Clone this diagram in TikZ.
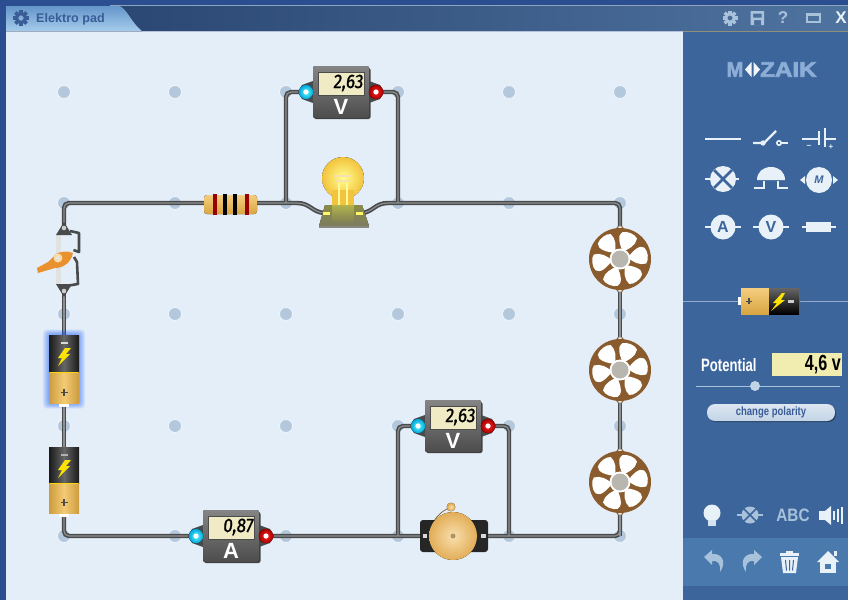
\documentclass[tikz,border=0pt]{standalone}
\usepackage{fontspec}
\usepackage{graphicx}
\setmainfont{Liberation Sans}
\newfontfamily\logofont[FakeBold=3]{Liberation Sans Bold}
\newfontfamily\lcdfont[FakeBold=1.2,FakeSlant=0.12]{Fira Sans}
\definecolor{framec}{HTML}{2A4E8F}
\definecolor{canvasc}{HTML}{E4EEF8}
\definecolor{panelc}{HTML}{3C659B}
\definecolor{bandc}{HTML}{4A79AE}
\definecolor{headtop}{HTML}{2A4672}
\definecolor{headbot}{HTML}{4F739F}
\definecolor{dotc}{HTML}{B4C8DD}
\definecolor{wirec}{HTML}{484A4C}
\definecolor{wirein}{HTML}{8E9091}
\definecolor{lcdc}{HTML}{F0EBC4}
\definecolor{yelc}{HTML}{F0B848}
\definecolor{brownc}{HTML}{8A5B2C}
\definecolor{iconc}{HTML}{E8F1F8}
\definecolor{icondim}{HTML}{A9C2DC}
\definecolor{logoc}{HTML}{8CADD6}
\definecolor{textblue}{HTML}{3A5C97}
\definecolor{tabtop}{HTML}{6496CA}
\definecolor{tabbot}{HTML}{A5CBEB}
\definecolor{orangec}{HTML}{E8912E}
\tikzset{
  griddot/.style={circle,fill=dotc,draw=canvasc!60!white,line width=0.8pt,minimum size=13pt,inner sep=0pt},
  wire/.style={draw=wirec,line width=4.4pt,rounded corners=5pt},
  wirecore/.style={draw=wirein,line width=1.2pt,rounded corners=5pt},
  paneltext/.style={text=white,font=\bfseries,inner sep=0pt},
  iconline/.style={draw=iconc,line width=2.2pt},
  icondisc/.style={circle,fill=iconc,inner sep=0pt,font=\bfseries\fontsize{16}{16}\selectfont,text=panelc}
}
% gear icon
\newcommand{\gearicon}[4]{%
 \begin{scope}[shift={(#1,#2)},scale=#3]
  \foreach \a in {0,45,...,315}{\fill[#4,rotate=\a] (-1.7,-7.5) rectangle (1.7,-4);}
  \fill[#4,even odd rule] (0,0) circle[radius=5.6] (0,0) circle[radius=2.6];
 \end{scope}}
% meter
\newcommand{\metericon}[5]{% name,x,y,value,letter
 \begin{scope}[shift={(#2,#3)}]
  \fill[wirec] (-28,-11) -- (-39,-7) -- (-43,0) -- (-39,7) -- (-28,11) -- cycle;
  \fill[wirec] (28,-11) -- (39,-7) -- (43,0) -- (39,7) -- (28,11) -- cycle;
  \fill[black!72,rounded corners=2pt] (-27,-24) rectangle (29.5,27);
  \fill[top color=black!48,bottom color=black!70,rounded corners=2pt] (-28,-26) rectangle (28,26);
  \fill[lcdc,draw=black!70,line width=.7pt] (-23,-20) rectangle (23,3);
  \node[inner sep=0pt,anchor=east] (#1val) at (22,-9) {\scalebox{1}[1.15]{\lcdfont\fontsize{17}{17}\selectfont #4}};
  \node[inner sep=0pt,text=white] (#1let) at (0,15) {\fontsize{22}{22}\selectfont\bfseries #5};
  \fill[inner color=cyan!60,outer color=blue!25!cyan!85!black] (-35,0) circle[radius=7.2];
  \fill[white] (-35,0) circle[radius=2.6];
  \fill[inner color=red!85,outer color=red!65!black] (35,0) circle[radius=7.2];
  \fill[white] (35,0) circle[radius=2.6];
 \end{scope}}
% fan
\newcommand{\fanicon}[2]{%
 \begin{scope}[shift={(#1,#2)}]
  \fill[brownc] (-6,-28) -- (-2,-33) -- (2,-33) -- (6,-28) -- cycle;
  \fill[brownc] (-6,28) -- (-2,33) -- (2,33) -- (6,28) -- cycle;
  \fill[white!75!black] (0,-31) circle[radius=2.2];
  \fill[white!75!black] (0,31) circle[radius=2.2];
  \fill[white] (0,-31) circle[radius=1.2];
  \fill[white] (0,31) circle[radius=1.2];
  \fill[brownc] (0,0) circle[radius=31];
  \foreach \a in {0,60,...,300}{
   \fill[white,rotate=\a-20] (0,-8) .. controls (-6,-14) and (-11,-22) .. (-7,-26) .. controls (-3,-29) and (6,-28.5) .. (9,-25) .. controls (10,-18) and (5,-12) .. (0,-8) -- cycle;}
  \fill[white] (0,0) circle[radius=10.5];
  \fill[black!32!yellow!10!white!70!black] (0,0) circle[radius=8.5];
 \end{scope}}
% battery
\newcommand{\batteryicon}[5]{% x,y top,y mid,y bottom,minus col
 \fill[white] (#1-5,#4) rectangle (#1+5,#4+4);
 \fill[left color=black!90,right color=black!90,middle color=black!60] (#1-15,#2) rectangle (#1+15,#3);
 \fill[left color=yelc!85!black,right color=yelc!85!black,middle color=yelc!75!white] (#1-15,#3) rectangle (#1+15,#4);
 \fill[yellow!75!orange] (#1-14,#3) rectangle (#1+14,#3+1.2);
 \fill[yellow!85!orange] (#1+1,#2+13) -- (#1-6,#2+23) -- (#1-2,#2+23) -- (#1-6,#2+31) -- (#1+6,#2+19) -- (#1+2,#2+19) -- (#1+7,#2+13) -- cycle;
 \fill[#5] (#1-3.5,#2+6.5) rectangle (#1+3.5,#2+9);
 \fill[black!70] (#1-3.5,#4-11.5) rectangle (#1+3.5,#4-9.8);
 \fill[black!70] (#1-.9,#4-14) rectangle (#1+.9,#4-7.2);
}
\begin{document}
\begin{tikzpicture}[x=1pt,y=-1pt]
\useasboundingbox (0,0) rectangle (848,600);
% frame
\fill[framec] (0,0) rectangle (848,600);
\fill[left color=headtop,right color=headbot] (100,6) rectangle (848,31);
\draw[white!35!headbot,line width=.6pt] (110,5.5) -- (848,5.5);
\fill[panelc] (683,32) rectangle (848,600);
\fill[canvasc] (6,32) rectangle (683,600);
\draw[white!65!framec,line width=.7pt] (6,31.5) -- (683,31.5);
\draw[yelc!40!headbot,line width=.7pt] (683,31.5) -- (848,31.5);
\fill[top color=tabtop,bottom color=tabbot] (6,31) -- (6,6) -- (120,6) .. controls (127,9) and (131,22) .. (142,31) -- cycle;
\gearicon{21}{18}{1.05}{textblue}
\node[inner sep=0pt,anchor=west,text=textblue] (title) at (36,19) {\fontsize{12.6}{12.6}\selectfont\bfseries Elektro pad};
% top icons
\gearicon{730}{18}{1}{icondim}
\fill[icondim,even odd rule] (750.5,11) rectangle (764,25) (753,13.5) rectangle (761.5,17.5) (754,20) rectangle (761,25);
\node[inner sep=0pt,text=icondim] (helpq) at (783,18) {\fontsize{17}{17}\selectfont\bfseries ?};
\draw[draw=icondim,line width=2.2pt] (807,14.5) rectangle (820,22);
\node[inner sep=0pt,text=iconc] (closex) at (841,18) {\fontsize{17}{17}\selectfont\bfseries X};
% grid
\foreach \x/\i in {64/a,175/b,286/c,398/d,509/e,620/f}
 \foreach \y/\j in {92/1,203/2,314/3,426/4,536/5}
  \node[griddot] (g\i\j) at (\x,\y) {};
% terminal coordinates
\coordinate (swT) at (64,228); \coordinate (swB) at (64,292);
\coordinate (batA) at (64,335); \coordinate (batAb) at (64,406);
\coordinate (batB) at (64,447); \coordinate (batBb) at (64,517);
\coordinate (blue1) at (306,92); \coordinate (red1) at (376,92);
\coordinate (blue2) at (417,426); \coordinate (red2) at (488,426);
\coordinate (lampL) at (324,213); \coordinate (lampR) at (362,213);
\coordinate (bendL) at (297,203); \coordinate (bendR) at (388,203);
\coordinate (fanT) at (620,228);
% wires
\foreach \st in {wire,wirecore}{
 \draw[\st] (swT) -- (ga2.center) -- (bendL);
 \draw[\st] (bendR) -- (gf2.center) -- (fanT);
 \draw[\st] (fanT) -- (gf5.center);
 \draw[\st] (gc2.center) -- (gc1.center) -- (blue1);
 \draw[\st] (gd2.center) -- (gd1.center) -- (red1);
 \draw[\st] (swB) -- (batA);
 \draw[\st] (batAb) -- (batB);
 \draw[\st] (batBb) -- (ga5.center) -- (gf5.center) -- (gf4.center);
 \draw[\st] (gd5.center) -- (gd4.center) -- (blue2);
 \draw[\st] (ge5.center) -- (ge4.center) -- (red2);
 \draw[\st] (bendL) .. controls (310,203) and (312,212) .. (lampL);
 \draw[\st] (bendR) .. controls (375,203) and (373,212) .. (lampR);
}
% resistor
\fill[top color=yelc!70!white,bottom color=yelc!90!black,rounded corners=3pt] (204,195) rectangle (257,214);
\foreach \x/\c in {215/red!60!black,225/black,235/black,247/red!60!black}
 \fill[\c] (\x-1.7,194) rectangle (\x+1.7,214.5);
% bulb
\fill[top color=black!40!yellow!45!gray,bottom color=black!55!yellow!25!gray] (325,205) -- (362,205) -- (369,226) -- (319,226) -- cycle;
\fill[black!70!yellow!20!gray] (319,226) rectangle (369,228);
\fill[inner color=yellow!45!white,outer color=yelc!85!yellow] (343,178) circle[radius=21];
\fill[yelc!85!yellow] (332,190) rectangle (354,205);
\fill[top color=yellow!40!gray,bottom color=black!45!yellow!35!gray] (332,205) rectangle (354,221);
\draw[yelc!45!white,line width=1.2pt] (334,176) -- (352,176) (336,181) -- (350,181);
\draw[yellow!40!white,line width=2pt] (339,183) -- (339,205) (347,183) -- (347,205);
\fill[yellow!60!white] (323,212) rectangle (330,215);
\fill[yellow!60!white] (356,212) rectangle (363,215);
% bell
\draw[yelc!50!black,line width=.7pt] (431,527) .. controls (435,517) and (442,511) .. (449,508);
\fill[black!85,rounded corners=3pt] (420,520) rectangle (488,552);
\fill[inner color=yelc!45!white,outer color=yelc!65!brown!90!white] (453,536) circle[radius=24];
\fill[yelc!40!gray] (453,536) circle[radius=2.5];
\fill[inner color=yelc!45!white,outer color=yelc!65!brown] (451,507) circle[radius=4.3];
\fill[white!85!black] (422.5,534) rectangle (427,538);
\fill[white!85!black] (481,534) rectangle (485.5,538);
% fans
\fanicon{620}{259}
\fanicon{620}{370}
\fanicon{620}{482}
% batteries
\foreach \g in {1,2,...,8}
 \fill[blue!70!cyan,opacity=.07,rounded corners=4pt] (50-\g*.9,335-\g*.7) rectangle (78+\g*.9,403+\g*.7);
\batteryicon{64}{335}{372}{403}{white!85!black}
\batteryicon{64}{447}{483}{513}{white!70!black}
% switch
\fill[white!88!black,opacity=.9] (56,235) rectangle (61,285);
\draw[wirec,line width=2.6pt,line join=round] (70,231) -- (79,233) -- (79,252) -- (73.5,250) (74,257) -- (77,262) -- (78,284) -- (66,286);
\fill[wirec] (64,222) -- (72,235) -- (56,235) -- cycle;
\fill[wirec] (64,297) -- (72,284) -- (56,284) -- cycle;
\fill[white!80!black] (64,228) circle[radius=2.3];
\fill[white!80!black] (64,291) circle[radius=2.3];
\fill[orangec] (37,268) -- (48,262) -- (54,256) .. controls (60,250) and (68,251) .. (73,253) .. controls (71,262) and (64,268) .. (55,268) -- (38,273) -- cycle;
\fill[yelc!50!white] (58,258) circle[radius=4.5];
\fill[white!80!gray] (58,258) circle[radius=2];
% meters
\metericon{vone}{341}{92}{2,63}{V}
\metericon{vtwo}{453}{426}{2,63}{V}
\metericon{amm}{231}{536}{0,87}{A}
% panel logo
\node[inner sep=0pt,text=logoc] (logoM) at (735,69.5) {\logofont\fontsize{21}{21}\selectfont\scalebox{.95}[1]{M}};
\fill[white!85!icondim] (745,69.5) -- (751.5,62) -- (751.5,77) -- cycle;
\fill[white!85!icondim] (760,69.5) -- (753.5,62) -- (753.5,77) -- cycle;
\node[inner sep=0pt,text=logoc,anchor=west] (logoZ) at (760,69.5) {\logofont\fontsize{21}{21}\selectfont\scalebox{1.15}[1]{ZAIK}};
% symbols row 1
\draw[iconline] (705,139) -- (741,139);
\draw[iconline] (753,143) -- (762,143) (764,143) -- (776,131);
\fill[iconc] (763,143) circle[radius=2.7];
\draw[iconc,line width=1.6pt] (779,143) circle[radius=2.2];
\draw[iconc,line width=1.6pt] (782,143) -- (788,143);
\draw[iconc,line width=1.6pt] (802,139) -- (819,139) (825,139) -- (836,139);
\draw[iconc,line width=2pt] (819,131) -- (819,145) (825,128) -- (825,147);
\node[inner sep=0pt,text=iconc] (bminus) at (809,147) {\fontsize{8}{8}\selectfont\bfseries −};
\node[inner sep=0pt,text=iconc] (bplus) at (831,147) {\fontsize{8}{8}\selectfont\bfseries +};
% row 2
\draw[iconline] (705,179) -- (739,179);
\fill[iconc] (723,179) circle[radius=13];
\draw[panelc,line width=2.6pt] (714,170) -- (732,188) (732,170) -- (714,188);
\fill[iconc] (757,180) .. controls (757,172) and (763,167) .. (771,167) .. controls (779,167) and (785,172) .. (785,180) -- cycle;
\draw[iconc,line width=2pt] (754,188) -- (764,188) -- (764,181) (778,181) -- (778,188) -- (788,188);
\fill[iconc] (800,180) -- (805,176) -- (805,184) -- cycle;
\fill[iconc] (838,180) -- (833,176) -- (833,184) -- cycle;
\node[icondisc,minimum size=26pt] (motor) at (819,180) {\fontsize{11}{11}\selectfont\itshape M};
% row 3
\draw[iconline] (705,227) -- (741,227);
\node[icondisc,minimum size=25pt] (symA) at (723,227) {A};
\draw[iconline] (753,227) -- (789,227);
\node[icondisc,minimum size=25pt] (symV) at (771,227) {V};
\draw[iconline] (802,227) -- (836,227);
\fill[iconc] (806,222) rectangle (831,232);
% panel battery
\draw[white!45!panelc,line width=.7pt] (683,301) -- (848,301);
\fill[white] (737.5,297) rectangle (741,305);
\fill[black!60,rounded corners=2pt] (741,289) rectangle (800,315);
\fill[top color=yelc!70!white,bottom color=yelc!90!black] (741,288) rectangle (769,314);
\fill[top color=black!60,bottom color=black] (769,288) rectangle (799,314);
\fill[black!70] (746,300.5) rectangle (752,302); \fill[black!70] (748.2,298.3) rectangle (749.8,304.2);
\fill[yellow!85!orange] (782,293) -- (773,303) -- (777,303) -- (771,311) -- (785,300) -- (781,300) -- (785,293) -- cycle;
\fill[white!80!black] (788,300) rectangle (794,302.5);
% potential
\node[paneltext,anchor=west] (potlab) at (701,365) {\scalebox{.82}[1.12]{\fontsize{16}{16}\selectfont\bfseries Potential}};
\fill[lcdc!90!yellow] (772,353) rectangle (842,376);
\node[inner sep=0pt,anchor=east] (potval) at (841,365) {\scalebox{.85}[1.15]{\fontsize{19}{19}\selectfont\bfseries 4,6 v}};
\draw[icondim,line width=.8pt] (696,386) -- (840,386);
\node[circle,fill=iconc!40!icondim,inner sep=0pt,minimum size=10pt] (knob) at (755,386) {};
\fill[black!40!panelc,rounded corners=8pt] (708,405) rectangle (836,422);
\node[rectangle,rounded corners=8pt,top color=white!60!icondim,bottom color=white!30!icondim,minimum width=128pt,minimum height=17pt,inner sep=0pt,text=textblue] (polbtn) at (771,412.5) {\scalebox{.85}[1.08]{\fontsize{11.2}{11.2}\selectfont\bfseries change polarity}};
% bottom band
\fill[bandc] (683,538) rectangle (848,586);
% status icons
\fill[iconc] (712,513) circle[radius=8.5];
\fill[iconc!70!icondim] (708,520) rectangle (716,526);
\begin{scope}[shift={(750,515)}]
 \draw[icondim,line width=1.6pt] (-13,0) -- (13,0);
 \fill[icondim] (0,0) circle[radius=8.5];
 \draw[panelc,line width=1.6pt] (-6.5,-6.5) -- (6.5,6.5) (6.5,-6.5) -- (-6.5,6.5);
\end{scope}
\node[inner sep=0pt,text=icondim] (abc) at (793,515) {\fontsize{18}{18}\selectfont\bfseries\scalebox{.85}[1]{ABC}};
\fill[iconc] (819,511) rectangle (825,520);
\fill[iconc] (825,511) -- (831,506) -- (831,525) -- (825,520) -- cycle;
\draw[iconc,line width=1.3pt] (834,511) -- (834,520);
\draw[iconc,line width=1.3pt] (838,509) -- (838,522);
\draw[iconc,line width=1.3pt] (842,507) -- (842,524);
% undo redo
\fill[icondim] (704,557) -- (712,550) -- (712,554) .. controls (722,553) and (727,562) .. (720,572) .. controls (721,564) and (718,560) .. (712,561) -- (712,565) -- cycle;
\fill[icondim] (762,557) -- (754,550) -- (754,554) .. controls (744,553) and (739,562) .. (746,572) .. controls (745,564) and (748,560) .. (754,561) -- (754,565) -- cycle;
% trash
\fill[iconc] (780,553) rectangle (799,555.5);
\fill[iconc] (786,551) rectangle (793,553);
\fill[iconc] (781,557) -- (798,557) -- (796,573) -- (783,573) -- cycle;
\draw[panelc,line width=1pt] (785.5,560) -- (786.5,570.5) (789.5,560) -- (789.5,570.5) (793.5,560) -- (792.5,570.5);
% home
\fill[iconc] (828,551) -- (839,562) -- (817,562) -- cycle;
\fill[iconc] (820,562) rectangle (836,573);
\fill[bandc] (825,564) rectangle (831,569);
\fill[iconc] (834,551) rectangle (837,556);
\end{tikzpicture}
\end{document}
